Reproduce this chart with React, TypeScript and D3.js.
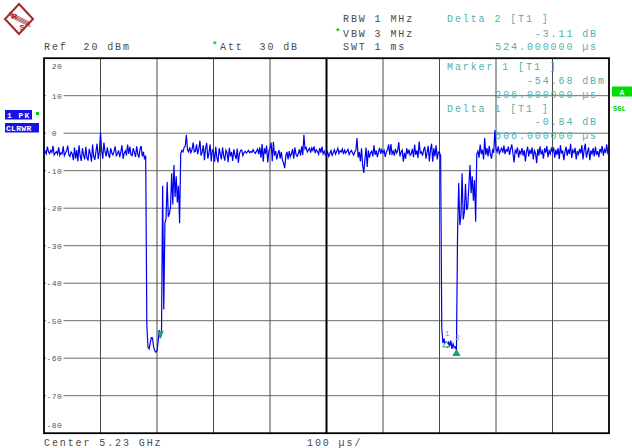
import React from "react";
import * as d3 from "d3";

const W = 632;
const H = 448;

// Sweep: 0..1000 µs, 2 µs per trace point (501 points), level in dBm
const sweepUs = [0, 1000];
const levelDb = [-80, 20];
const yTicks = [20, 10, 0, -10, -20, -30, -40, -50, -60, -70, -80];
const xTicks = [0, 100, 200, 300, 400, 500, 600, 700, 800, 900, 1000];

const trace: number[] = [
  -5.2,-4.8,-5.5,-3.6,-5.0,-5.4,-4.6,-5.1,-3.4,-5.8,-5.3,-4.9,-5.6,-3.8,-5.9,-5.2,-5.5,-3.5,-6.0,-5.3,-4.7,-3.3,-5.8,-6.2,-5.0,
  -5.5,-7.2,-3.8,-6.8,-4.5,-7.5,-3.2,-6.0,-7.4,-4.0,-5.8,-7.0,-3.6,-6.5,-7.3,-4.2,-5.5,-7.6,-3.0,-6.2,-7.1,-4.8,-2.8,-6.9,-5.0,
  0.2,-4.5,-6.8,-2.5,-5.0,-6.2,-3.8,-5.5,-6.6,-4.0,-5.2,-5.8,-4.8,-3.5,-6.0,-5.5,-4.6,-6.4,-5.0,-3.2,-6.8,-5.3,-4.7,-5.9,-3.0,
  -5.5,-3.6,-5.8,-6.0,-4.0,-5.2,-6.3,-3.5,-5.6,-6.5,-4.2,-3.4,-6.2,-5.0,-7.0,-6.0,-51,-57,-57.5,-56,-54.5,-54.6,-57,-58,-58.4,
  -58.2,-55.5,-52.5,-54.68,-53,-14,-47,-24,-22.8,-13,-22.3,-21.5,-19.5,-10.7,-19,-8.5,-17,-11.5,-18.5,-14,-24,-5.5,-4.6,-5.0,-3.8,
  -3.5,-0.4,-4.5,-5.0,-3.8,-5.2,-4.4,-2.5,-5.0,-4.8,-3.0,-5.6,-4.2,-2.0,-6.0,-5.0,-3.2,-7.2,-4.0,-2.6,-6.8,-5.3,-3.0,-7.5,-4.5,
  -5.0,-7.6,-3.6,-6.5,-7.8,-4.0,-5.5,-7.0,-3.8,-6.0,-7.3,-4.5,-5.2,-7.7,-3.9,-6.2,-5.0,-7.4,-4.3,-5.8,-6.9,-4.1,-7.9,-5.4,-4.6,
  -4.5,-6.0,-5.2,-4.8,-5.3,-5.0,-4.6,-5.2,-4.9,-5.1,-4.4,-5.0,-5.4,-4.8,-4.2,-5.6,-3.8,-6.5,-2.9,-7.6,-4.0,-5.5,-3.3,-7.8,-4.8,
  -4.0,-2.5,-7.5,-2.3,-6.0,-4.8,-7.0,-5.5,-4.5,-6.8,-5.0,-7.2,-8.0,-9.3,-6.0,-5.0,-7.0,-4.8,-6.3,-5.5,-4.2,-6.8,-3.8,-5.6,-6.2,
  -5.5,-4.3,-6.0,-3.5,-5.8,-0.4,-4.2,-3.8,-5.0,-4.5,-4.0,-5.2,-3.9,-4.6,-3.5,-5.3,-4.4,-4.8,-5.6,-4.0,-5.2,-3.6,-5.5,-4.8,-5.9,
  -5.8,-5.0,-6.2,-5.4,-4.6,-5.9,-5.2,-4.4,-5.6,-4.9,-4.0,-5.4,-4.7,-5.0,-4.2,-5.6,-4.5,-5.3,-4.8,-4.3,-5.7,-5.0,-4.6,-5.2,-5.8,
  -5.0,-4.5,-1.3,-6.5,-5.0,-7.5,-4.0,-8.5,-10.6,-7.0,-3.8,-9.0,-4.6,-6.5,-5.2,-4.8,-6.2,-3.2,-5.8,-4.6,-6.4,-5.0,-3.9,-5.5,-4.4,
  -5.2,-4.6,-6.3,-5.0,-4.4,-3.0,-5.8,-2.9,-5.5,-4.8,-6.0,-4.2,-5.3,-4.7,-2.4,-6.2,-5.0,-4.5,-7.6,-5.2,-6.8,-4.0,-5.6,-4.4,-5.9,
  -5.5,-4.2,-6.4,-3.0,-5.8,-4.6,-6.6,-2.2,-5.3,-5.0,-6.0,-4.4,-3.6,-6.8,-5.2,-3.4,-7.5,-4.5,-2.8,-7.6,-4.0,-6.2,-3.2,-7.0,-5.0,
  -5.2,-6.0,-52,-56,-54.8,-56.5,-55.52,-57.2,-55.5,-56.8,-55.3,-57.5,-56.2,-57.2,-57.0,-57.79,-26.5,-13.3,-24.5,-22.0,-10.7,-23.0,-21.0,-13.5,-20.5,
  -19.5,-14,-8.5,-16,-11.5,-18,-12.5,-23.6,-5.5,-4.8,-6.5,-3.0,-5.6,-4.4,-7.0,-1.3,-5.8,-4.0,-6.2,-3.4,-5.5,-6.8,-4.5,-5.2,0.8,
  -4.2,-5.0,-3.5,-5.4,-4.6,-4.0,-5.2,-3.3,-5.6,-4.4,-4.8,-3.6,-5.8,-4.2,-3.0,-5.4,-7.8,-4.6,-5.2,-3.8,-6.5,-4.8,-5.5,-4.0,-6.0,
  -4.5,-7.5,-5.0,-3.6,-6.2,-4.4,-5.5,-3.8,-7.0,-4.6,-5.3,-8.0,-4.2,-6.0,-3.5,-5.6,-4.8,-6.8,-4.0,-5.2,-3.4,-6.4,-4.7,-5.5,-4.1,
  -5.0,-3.8,-6.5,-4.4,-5.8,-4.0,-6.9,-3.2,-5.4,-4.6,-7.2,-5.0,-3.6,-6.0,-4.3,-5.5,-2.8,-6.6,-4.5,-5.2,-3.9,-7.0,-4.8,-5.6,-4.2,
  -5.4,-3.2,-7.0,-4.5,-2.8,-6.5,-5.0,-3.8,-7.2,-4.6,-5.5,-4.0,-6.2,-3.6,-5.8,-4.8,-6.4,-4.2,-5.0,-3.4,-6.0,-4.4,-5.2,-3.0,-5.6,
  -4.8,
];
const STEP_US = 2;

// Markers: [name, time µs, level dBm, kind]
const markerNames = ["1", "1", "2"];
const markerTimes = [206, 712, 730];
const markerLevels = [-54.68, -55.52, -57.79];
const markerKinds = ["main", "delta-open", "delta-filled"];

const headerLeft = [
  { text: "Ref  20 dBm", x: 44, y: 50 },
  { text: "Att  30 dB", x: 220, y: 50, star: true },
  { text: "RBW 1 MHz", x: 343, y: 22 },
  { text: "VBW 3 MHz", x: 343, y: 36.5, star: true },
  { text: "SWT 1 ms", x: 343, y: 50 },
];
const markerInfoLeft = [
  { text: "Delta 2 [T1 ]", y: 22 },
  { text: "Marker 1 [T1 ]", y: 70 },
  { text: "Delta 1 [T1 ]", y: 111.5 },
];
const markerInfoRight = [
  { text: "-3.11 dB ", y: 36.5 },
  { text: "524.000000 µs ", y: 50 },
  { text: "-54.68 dBm", y: 83.5 },
  { text: "206.000000 µs ", y: 97.5 },
  { text: "-0.84 dB ", y: 125 },
  { text: "506.000000 µs ", y: 139 },
];

const FONT = "'Liberation Mono', 'DejaVu Sans Mono', monospace";
const CH = 7.9;
const DARK = "#4a4a4a";
const TEAL = "#52b0b0";
const MARK = "#1f9a86";

export default function App() {
  const L = 44, R = 609, T = 58.2, B = 433.2;
  const x = d3.scaleLinear().domain(sweepUs).range([L, R]);
  const y = d3.scaleLinear().domain(levelDb).range([B, T]);
  const line = d3
    .line<number>()
    .x((_, i) => x(i * STEP_US))
    .y((d) => y(d));

  const txt = (s: string, px: number, py: number, fill: string, key: string) => (
    <text
      key={key}
      x={px}
      y={py}
      fill={fill}
      fontFamily={FONT}
      fontSize={10}
      letterSpacing={1.9}
      style={{ whiteSpace: "pre" }}
    >
      {s}
    </text>
  );

  return (
    <svg
      width={W}
      height={H}
      style={{ position: "fixed", left: 0, top: 0, background: "#fff" }}
    >
      <rect x={0} y={0} width={W} height={H} fill="#fff" />
      {/* R&S logo */}
      <g>
        <polygon points="19,4 33,19 19,34 5,19" fill="#fff" stroke="#a3282b" strokeWidth={2} />
        {[0, 1.6, 3.2, 4.8].map((o, i) => (
          <line key={i} x1={9 + o * 0.3} y1={12 + o} x2={29 + o * 0.3} y2={22 + o} stroke="#a3282b" strokeWidth={0.8} />
        ))}
        <text x={11.5} y={19} fontFamily="'Liberation Sans', sans-serif" fontSize={8} fill="#a3282b" fontWeight="bold">R</text>
        <text x={19.5} y={30} fontFamily="'Liberation Sans', sans-serif" fontSize={8} fill="#a3282b" fontWeight="bold">S</text>
      </g>

      {/* header texts */}
      {headerLeft.map((h, i) => (
        <g key={"h" + i}>
          {h.star && (
            <text x={h.x - 8} y={h.y - 2} fill="#00d000" fontFamily={FONT} fontSize={9} fontWeight="bold">*</text>
          )}
          {txt(h.text, h.x, h.y, DARK, "ht" + i)}
        </g>
      ))}

      {/* grid */}
      <g>
        {yTicks.slice(1, -1).map((v) => (
          <line key={"gy" + v} x1={L} x2={R} y1={y(v)} y2={y(v)} stroke="#6a6a6a" strokeWidth={1} />
        ))}
        {xTicks.slice(1, -1).map((v) => (
          <line
            key={"gx" + v}
            x1={x(v)}
            x2={x(v)}
            y1={T}
            y2={B}
            stroke={v === 500 ? "#000" : "#4a4a4a"}
            strokeWidth={v === 500 ? 2 : 1}
          />
        ))}
        <rect x={L} y={T} width={R - L} height={B - T} fill="none" stroke="#000" strokeWidth={1.8} />
      </g>

      {/* y tick labels */}
      {yTicks.map((v) => {
        const cy = v === 20 ? T + 8 : v === -80 ? B - 8.5 : y(v);
        const s = (v < 0 ? "-" : " ") + Math.abs(v);
        return (
          <g key={"yl" + v}>
            <rect x={46} y={cy - 4} width={17.5} height={8} fill="#fff" />
            <text
              x={46.5}
              y={cy + 3}
              fill="#555"
              fontFamily={FONT}
              fontSize={8}
              letterSpacing={0.5}
              style={{ whiteSpace: "pre" }}
            >
              {s}
            </text>
          </g>
        );
      })}

      {/* marker info texts */}
      {markerInfoLeft.map((m, i) => txt(m.text, 447, m.y, TEAL, "ml" + i))}
      {markerInfoRight.map((m, i) => txt(m.text, 598 - (m.text.length - 1) * CH, m.y, TEAL, "mr" + i))}

      {/* trace */}
      <path d={line(trace) || ""} fill="none" stroke="#0000f0" strokeWidth={1.2} strokeLinejoin="miter" />

      {/* markers */}
      {markerTimes.map((t, i) => {
        const mx = x(t);
        const my = y(markerLevels[i]);
        const kind = markerKinds[i];
        if (kind === "main") {
          return (
            <g key={"mk" + i}>
              <polygon points={`${mx},${my} ${mx - 3.5},${my - 7} ${mx + 3.5},${my - 7}`} fill={MARK} />
            </g>
          );
        }
        const filled = kind === "delta-filled";
        return (
          <g key={"mk" + i}>
            <polygon
              points={`${mx},${my} ${mx - 3.5},${my + 5.5} ${mx + 3.5},${my + 5.5}`}
              fill={filled ? MARK : "#fff"}
              stroke={MARK}
              strokeWidth={1}
            />
            <text x={mx - 1.5} y={my - (filled ? 10 : 5)} fill={TEAL} fontFamily={FONT} fontSize={8}>
              {markerNames[i]}
            </text>
          </g>
        );
      })}

      {/* left side trace labels */}
      <rect x={5} y={110} width={27} height={9.5} fill="#1414e6" />
      <text x={7} y={118} fill="#fff" fontFamily={FONT} fontSize={8} fontWeight="bold" letterSpacing={1} style={{ whiteSpace: "pre" }}>1 PK</text>
      <rect x={36} y={112} width={3} height={3} fill="#00d000" />
      <rect x={5} y={123} width={34} height={9.5} fill="#1414e6" />
      <text x={6} y={131} fill="#fff" fontFamily={FONT} fontSize={8} fontWeight="bold" letterSpacing={0.3}>CLRWR</text>

      {/* right side status */}
      <rect x={612} y={86.5} width={20} height={10} fill="#00dd00" />
      <text x={619.5} y={94.5} fill="#fff" fontFamily={FONT} fontSize={8} fontWeight="bold">A</text>
      <text x={613} y={110.5} fill="#00c800" fontFamily={FONT} fontSize={7} fontWeight="bold">SGL</text>

      {/* bottom */}
      {txt("Center 5.23 GHz", 44, 446, DARK, "b1")}
      {txt("100 µs/", 307, 446, DARK, "b2")}
    </svg>
  );
}
